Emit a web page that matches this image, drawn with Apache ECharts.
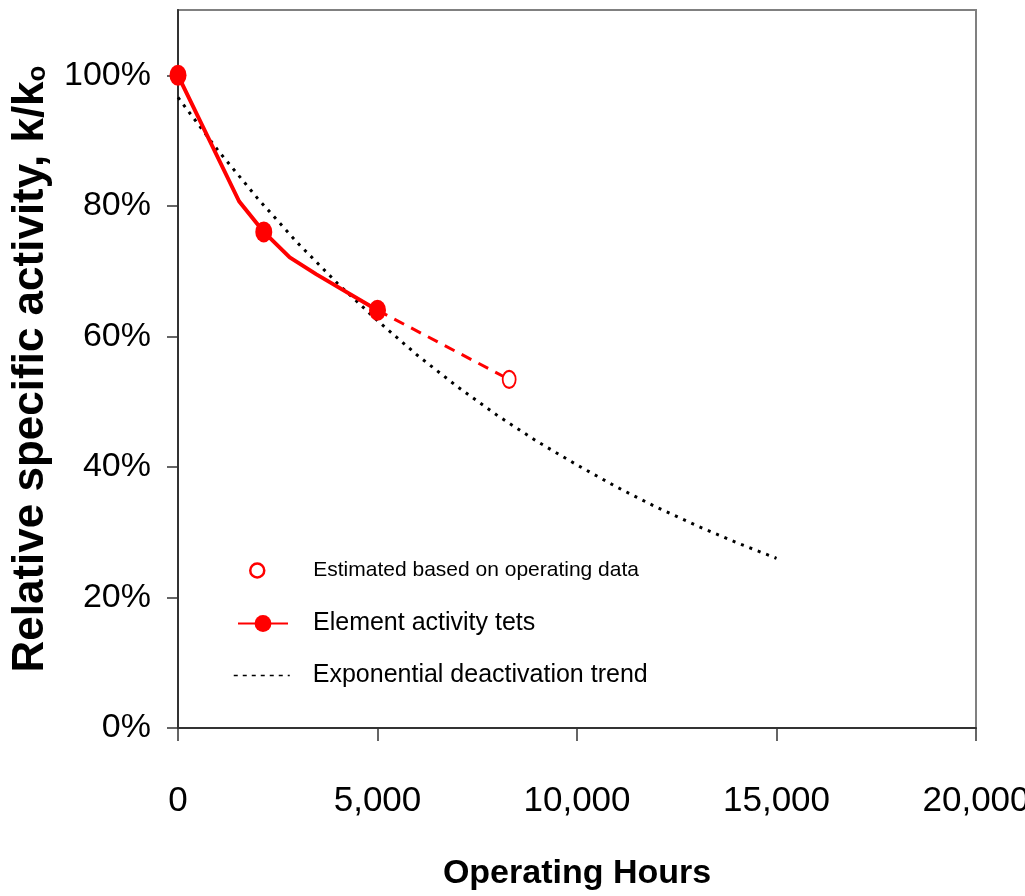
<!DOCTYPE html>
<html>
<head>
<meta charset="utf-8">
<script src="https://cdn.jsdelivr.net/npm/echarts@6/dist/echarts.min.js"></script>
<style>
html,body{margin:0;padding:0;background:#fff;}
#chart{width:1025px;height:896px;}
</style>
</head>
<body>
<div id="chart"></div>
<script>
// ---- data ----
const seriesNames = ['Estimated based on operating data', 'Element activity tets', 'Exponential deactivation trend'];
// Element activity tests: [hours, relative activity, marker shown]
const testHours = [0, 1530, 2150, 2800, 3470, 5000];
const testActivity = [1.00, 0.807, 0.76, 0.721, 0.695, 0.64];
const testMarker = [true, false, true, false, false, true];
// Estimated extension
const estHours = [5000, 8300];
const estActivity = [0.64, 0.534];
const estMarker = [false, true];
// Exponential trend (dotted)
const trendHours = [0, 1000, 2000, 3000, 4000, 5000, 6000, 7000, 8000, 9000, 10000, 11000, 12000, 13000, 14000, 15000];
const trendActivity = [0.966, 0.885, 0.811, 0.743, 0.681, 0.624, 0.571, 0.523, 0.479, 0.439, 0.403, 0.369, 0.338, 0.310, 0.284, 0.260];
// Axis ticks
const yTicks = [0, 0.2, 0.4, 0.6, 0.8, 1.0];
const xTicks = [0, 5000, 10000, 15000, 20000];

const SANS = "'Liberation Sans',Arial,sans-serif";

function pts(xs, ys, marks, sym) {
  return xs.map((x, i) => ({
    value: [x, ys[i]],
    symbol: marks[i] ? sym : 'none'
  }));
}

const chart = echarts.init(document.getElementById('chart'));
chart.setOption({
  animation: false,
  backgroundColor: '#fff',
  grid: {left: 178, top: 10, right: 49, bottom: 168, show: true, borderColor: '#808080', borderWidth: 2,
         containLabel: false, outerBoundsMode: 'none'},
  xAxis: {
    type: 'value', min: 0, max: 20000, interval: 5000,
    name: 'Operating Hours', nameLocation: 'middle', nameGap: 129,
    nameTextStyle: {fontFamily: SANS, fontWeight: 'bold', fontSize: 34, color: '#000'},
    axisLine: {show: true, onZero: false, lineStyle: {color: '#333', width: 2}},
    axisTick: {show: true, length: 13, lineStyle: {color: '#333', width: 1.5}, customValues: xTicks},
    axisLabel: {
      margin: 56, fontFamily: SANS, fontSize: 35, color: '#000', customValues: xTicks,
      formatter: v => v.toLocaleString('en-US')
    },
    splitLine: {show: false}
  },
  yAxis: {
    type: 'value', min: 0, max: 1.1, interval: 0.2,
    name: 'Relative specific activity, k/k{sub|o}', nameLocation: 'middle', nameGap: 122, nameRotate: 90,
    nameTextStyle: {fontFamily: SANS, fontWeight: 'bold', fontSize: 44, color: '#000',
      rich: {sub: {fontFamily: SANS, fontWeight: 'bold', fontSize: 26, color: '#000', padding: [14, 0, 0, 0]}}},
    axisLine: {show: true, lineStyle: {color: '#333', width: 2}},
    axisTick: {show: true, length: 11, lineStyle: {color: '#333', width: 1.5}, customValues: yTicks},
    axisLabel: {
      margin: 27, fontFamily: SANS, fontSize: 34, color: '#000', customValues: yTicks,
      formatter: v => Math.round(v * 100) + '%'
    },
    splitLine: {show: false}
  },
  legend: [
    {
      left: 244, top: 555, orient: 'vertical', itemWidth: 14, itemHeight: 17, symbolKeepAspect: false,
      data: [{name: seriesNames[0], icon: 'circle', itemStyle: {color: '#fff', borderColor: '#ff0000', borderWidth: 2.5}}],
      textStyle: {fontFamily: SANS, fontSize: 21, color: '#000', padding: [0, 0, 0, 44]}
    },
    {
      left: 232, top: 606, orient: 'vertical', itemWidth: 50, itemHeight: 21,
      data: [seriesNames[1]],
      textStyle: {fontFamily: SANS, fontSize: 25, color: '#000', padding: [0, 0, 0, 20]}
    },
    {
      left: 228, top: 658, orient: 'vertical', itemWidth: 56, itemHeight: 20,
      data: [{name: seriesNames[2], itemStyle: {opacity: 0}}],
      lineStyle: {color: '#000', width: 1.5, type: [4, 5]},
      textStyle: {fontFamily: SANS, fontSize: 25, color: '#000', padding: [0, 0, 0, 18]}
    }
  ],
  series: [
    {
      name: seriesNames[2], type: 'line', symbol: 'none', z: 1,
      data: trendHours.map((h, i) => [h, trendActivity[i]]),
      lineStyle: {color: '#000', width: 3, type: [3, 6]},
      itemStyle: {color: '#000'}
    },
    {
      name: seriesNames[0], type: 'line', z: 2, symbol: 'emptyCircle', symbolSize: [13, 17],
      data: pts(estHours, estActivity, estMarker, 'emptyCircle'),
      lineStyle: {color: '#ff0000', width: 3, type: [11, 8]},
      itemStyle: {color: '#ff0000', borderColor: '#ff0000', borderWidth: 2.5}
    },
    {
      name: seriesNames[1], type: 'line', z: 3, symbol: 'circle', symbolSize: [17, 21],
      data: pts(testHours, testActivity, testMarker, 'circle'),
      lineStyle: {color: '#ff0000', width: 4},
      itemStyle: {color: '#ff0000'}
    }
  ]
});
</script>
</body>
</html>
